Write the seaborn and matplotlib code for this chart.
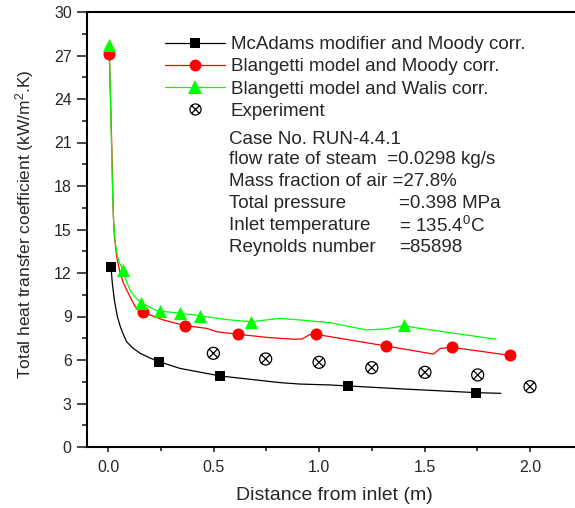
import matplotlib
matplotlib.use("Agg")
import matplotlib.pyplot as plt
from matplotlib.lines import Line2D
from matplotlib.path import Path
from matplotlib.ticker import MultipleLocator
import numpy as np
import pandas as pd
import seaborn as sns

# curves (x in m, y in kW/m2.K)
mcadams_line_x = [0.014, 0.020, 0.030, 0.044, 0.058, 0.070, 0.088, 0.115, 0.152, 0.200, 0.243, 0.341, 0.531,
                  0.815, 0.910, 1.050, 1.139, 1.400, 1.743, 1.862]
mcadams_line_y = [12.4, 11.3, 10.1, 8.99, 8.30, 7.84, 7.26, 6.85, 6.46, 6.13, 5.88, 5.42, 4.90,
                  4.44, 4.34, 4.28, 4.21, 4.00, 3.75, 3.70]
mcadams_pts_x = [0.014, 0.243, 0.531, 1.139, 1.743]
mcadams_pts_y = [12.4, 5.88, 4.90, 4.21, 3.75]

moody_line_x = [0.006, 0.009, 0.013, 0.017, 0.021, 0.025, 0.030, 0.041, 0.057, 0.073, 0.096, 0.128, 0.164,
                0.262, 0.365, 0.468, 0.515, 0.618, 0.752, 0.878, 0.920, 0.955, 0.984, 1.052, 1.316,
                1.542, 1.575, 1.632, 1.905]
moody_line_y = [27.1, 25.2, 23.3, 21.0, 18.3, 15.9, 14.5, 13.1, 12.0, 11.29, 10.6, 9.68, 9.29,
                8.76, 8.37, 8.18, 7.95, 7.77, 7.56, 7.43, 7.45, 7.75, 7.77, 7.61, 6.97,
                6.41, 6.80, 6.87, 6.32]
moody_pts_x = [0.006, 0.164, 0.365, 0.618, 0.984, 1.316, 1.632, 1.905]
moody_pts_y = [27.1, 9.29, 8.37, 7.77, 7.77, 6.97, 6.87, 6.32]

walis_line_x = [0.006, 0.009, 0.013, 0.017, 0.022, 0.027, 0.035, 0.045, 0.057, 0.070, 0.085, 0.104, 0.130,
                0.156, 0.231, 0.341, 0.436, 0.550, 0.678, 0.815, 0.910, 1.052, 1.226, 1.320, 1.403,
                1.447, 1.839]
walis_line_y = [27.7, 25.5, 23.0, 20.2, 17.3, 15.3, 14.0, 13.1, 12.6, 12.2, 11.5, 10.83, 10.3,
                9.95, 9.40, 9.22, 9.06, 8.80, 8.64, 8.87, 8.76, 8.57, 8.07, 8.15, 8.38,
                8.25, 7.43]
walis_pts_x = [0.006, 0.070, 0.156, 0.246, 0.341, 0.436, 0.678, 1.403]
walis_pts_y = [27.7, 12.2, 9.95, 9.40, 9.22, 9.06, 8.64, 8.41]

exp_x = [0.499, 0.747, 1.000, 1.250, 1.502, 1.752, 2.000]
exp_y = [6.46, 6.07, 5.84, 5.47, 5.15, 4.97, 4.16]

labels = ["McAdams modifier and Moody corr.", "Blangetti model and Moody corr.",
          "Blangetti model and Walis corr.", "Experiment"]
colors = ["black", "#ff0000", "#00ff00"]

W, H = 575, 508

sns.set_style("ticks")
plt.rcParams["font.family"] = ["Liberation Sans", "DejaVu Sans"]
plt.rcParams["mathtext.fontset"] = "custom"
plt.rcParams["mathtext.rm"] = "Liberation Sans"
plt.rcParams["mathtext.it"] = "Liberation Sans"

fig = plt.figure(figsize=(W / 100, H / 100), dpi=100)
ax = fig.add_axes([87 / W, 1 - 447 / H, (W - 87) / W, (447 - 12) / H])

# circle with an X inside for the experiment
circ = Path.unit_circle()
d = 0.707
xpath = Path([(-d, -d), (d, d), (-d, d), (d, -d)],
             [Path.MOVETO, Path.LINETO, Path.MOVETO, Path.LINETO])
otimes = Path.make_compound_path(circ, xpath)

series = [
    (mcadams_line_x, mcadams_line_y, mcadams_pts_x, mcadams_pts_y, "s", 55),
    (moody_line_x, moody_line_y, moody_pts_x, moody_pts_y, "o", 75),
    (walis_line_x, walis_line_y, walis_pts_x, walis_pts_y, "^", 90),
]
for (lx, ly, px, py, mk, ms), c in zip(series, colors):
    line_df = pd.DataFrame({"x": lx, "y": ly})
    sns.lineplot(data=line_df, x="x", y="y", sort=False, estimator=None,
                 color=c, linewidth=0.9, ax=ax)
    pts_df = pd.DataFrame({"x": px, "y": py})
    sns.scatterplot(data=pts_df, x="x", y="y", marker=mk, s=ms, color=c,
                    edgecolor=c, linewidth=0, ax=ax, zorder=3)

exp_df = pd.DataFrame({"x": exp_x, "y": exp_y})
sns.scatterplot(data=exp_df, x="x", y="y", marker=otimes, s=75, facecolors="none",
                edgecolor="black", linewidth=0.9, ax=ax, zorder=3)

ax.set_xlim(-0.1, (W - 108) / 211)
ax.set_ylim(0, 30)
ax.xaxis.set_minor_locator(MultipleLocator(0.25))
ax.yaxis.set_major_locator(MultipleLocator(3))
ax.yaxis.set_minor_locator(MultipleLocator(1.5))
ax.set_xticks([0.0, 0.5, 1.0, 1.5, 2.0])
ax.set_xticklabels(["0.0", "0.5", "1.0", "1.5", "2.0"])
ax.tick_params(axis="y", which="major", direction="out", length=7, width=1.2, labelsize=11.5, pad=4)
ax.tick_params(axis="y", which="minor", direction="out", length=3.6, width=1.2)
ax.tick_params(axis="x", which="major", direction="out", length=3.5, width=1.2, labelsize=11.5, pad=6)
ax.tick_params(axis="x", which="minor", direction="out", length=3, width=1.2)
for side in ["left", "bottom", "top"]:
    ax.spines[side].set_linewidth(1.5)
    ax.spines[side].set_color("black")
ax.spines["right"].set_visible(False)

ax.set_xlabel("Distance from inlet (m)", fontsize=14)
ax.xaxis.set_label_coords((334 - 87) / (W - 87), -(495 - 447) / (447 - 12))
ax.set_ylabel("Total heat transfer coefficient (kW/m$^{2}$.K)", fontsize=12.5)
ax.yaxis.set_label_coords(-(87 - 25) / (W - 87), (447 - 224) / (447 - 12))
ax.yaxis.label.set_va("center")
ax.xaxis.label.set_va("center")

handles = [Line2D([], [], color=c, marker=m, markersize=ms, linewidth=0.9, markeredgewidth=0)
           for c, m, ms in zip(colors, ["s", "o", "^"], [7.5, 8.5, 9.5])]
handles.append(Line2D([], [], color="black", marker=otimes, markersize=8, linestyle="none",
                      markerfacecolor="none", markeredgewidth=0.9))
ax.legend(handles, labels, loc="upper left", bbox_to_anchor=(165 / W, 1 - 36 / H),
          bbox_transform=fig.transFigure, frameon=False, fontsize=13.5,
          handlelength=3.2, handletextpad=0.3, labelspacing=0.27, borderpad=0, borderaxespad=0)

info = [
    (139, "Case No. RUN-4.4.1", None),
    (160, "flow rate of steam  =0.0298 kg/s", None),
    (182, "Mass fraction of air =27.8%", None),
    (204, "Total pressure", "=0.398 MPa"),
    (226, "Inlet temperature", "= 135.4$^0$C"),
    (248, "Reynolds number", "=85898"),
]
for y, left, right in info:
    fig.text(229 / W, 1 - y / H, left, fontsize=13.5, va="center", ha="left")
    if right:
        fig.text(399 / W, 1 - y / H, right, fontsize=13.5, va="center", ha="left")

fig.savefig("out.png", dpi=100)
